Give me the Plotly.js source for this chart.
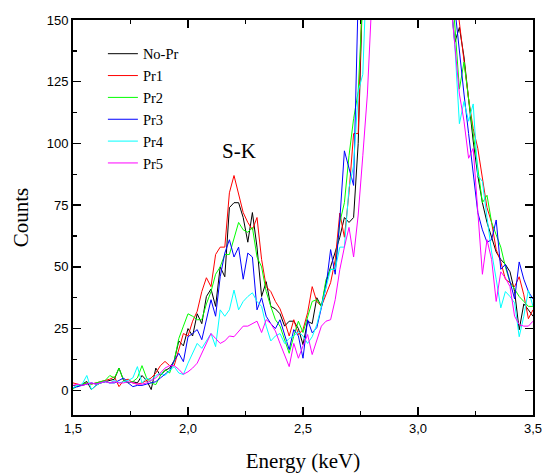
<!DOCTYPE html>
<html>
<head>
<meta charset="utf-8">
<script src="https://cdn.plot.ly/plotly-3.0.1.min.js"></script>
<style>html,body{margin:0;padding:0;background:#fff;}#chart{width:543px;height:473px;}</style>
</head>
<body>
<div id="chart"></div>
<script>
// Energy grid (keV), one channel every 0.02 keV from 1.50 to 3.50
const energyStart = 1.5;
const energyStep = 0.02;
const channelCount = 101;
const energy = Array.from({length: channelCount}, (_, i) => +(energyStart + energyStep * i).toFixed(2));

const seriesNames = ['No-Pr', 'Pr1', 'Pr2', 'Pr3', 'Pr4', 'Pr5'];
const seriesColors = ['#000000', '#ff0000', '#00ff00', '#0000ff', '#00ffff', '#ff00ff'];

const noPr = [2,1.5,2.5,3.6,0.3,2,3,3.5,4,4.5,
  9,4,3,3.5,3,6,4,0.3,9,6,
  8,9,12,20,18,25,22,31,27,38,
  41,34,50,46,74,76,76,70,60,72,
  58,38,44,34,33,31,26,28,28,25,
  18.5,28,27,37.5,34,43.6,50,56,62,70,
  68,70,100,165,210,270,340,430,520,600,
  670,710,720,700,660,610,540,460,380,300,
  240,190,160,141,147,135,118,101,87,76,
  68,62,56,53,51,48,40,24.5,35,32.6,
  30];
const pr1 = [3,2.5,2,3,2.5,3,3.5,4,4.5,5.5,
  1.5,4,4.5,3,2.5,3,4,5,7,10,
  11.7,10,10,16,23,22,28,32,40,45.6,
  42,55,58,58,80,87,80,72,68,65,
  70,53,42,40,36,33,28,22,28.6,22.6,
  24.6,31.4,42,36,34,38.7,43.6,52.8,71.8,62,
  80,104,104,170,230,300,380,470,560,640,
  700,740,750,730,690,640,570,490,410,330,
  265,210,180,165,148,133,118,106,98,86,
  74,68,57,52,45,43.6,42,46,38.7,29,
  32.6];
const pr2 = [0.5,2,2.5,3,2.5,3,3.5,4,6,5,
  9,4,3,3.5,5,10,5,3,2.3,6,
  8.4,7,12,21,26,31,30,28.6,28.6,35,
  40,47,50,55,55,61,68,65,64,66,
  54,50,40,34,28.6,26,20.5,15,22,28,
  23.4,30,36,36.7,34,44.8,49,49,68,76,
  95,110,121,160,215,280,350,440,530,610,
  680,720,730,710,670,620,550,470,390,310,
  250,200,170,148,122,133,118,104,88,76,
  79,68,63,58,50,43.6,41,38,36,34,
  34];
const pr3 = [1,1.5,2,2.5,3,2.5,3,3.5,3,3,
  4,5,3,1.5,2,2,2.5,3,3.5,5,
  6.4,8,12,15,11.6,21.7,23,24.6,20.5,28,
  36.7,30,46,55.6,61,54,58,45,55.6,54,
  32.6,37.5,30,27,25,28.6,22,16.5,24.6,22,
  13,28.6,23.3,25.4,33.5,42,57,47,69,97,
  90,83,160,220,290,370,460,550,630,690,
  730,740,720,680,630,560,480,400,320,260,
  210,180,175,155,137,120,104,88.5,72,65,
  60,61,69,49,51,44,37,52,45,40,
  37];
const pr4 = [1,2,2.5,6,0.3,2,3,3.5,3,4,
  3,3.5,4,5,9.6,3,5,4,6,7,
  6,8,9.6,7,6.4,11,15,19,17,20,
  23,17.7,32.6,30,32.6,40.6,32.6,36,38,39.5,
  36,34,26,20,22,23,19,21,22,23.8,
  22,19,21.7,26.6,34,42,49,49,58,58,
  82,91,121,128,165,230,310,400,490,570,
  640,680,690,670,630,580,510,430,350,280,
  220,180,160,140,108,117,109,116,87,84.6,
  70,56,45,33.4,40,38,35.4,21.7,30,40.6,
  34];
const pr5 = [2,2.5,2,2.5,3,2.5,3,3.5,3,3.5,
  3,3,3.5,3,2.5,2.5,3,4,5,7,
  9,10,10,8.5,6.5,7.5,9,11,15,19,
  23,21,19,20,22,21.7,24,26,26,27,
  28,23.4,28.6,27,24,19,14,9.6,19,13,
  18,22.6,14.5,20.5,26,28,28.6,36.7,48.9,58,
  66,54,71,95,120,160,220,300,390,480,
  560,620,650,640,610,560,490,410,330,260,
  210,175,160,140,120,109,94,98,74,47,
  61,53,36,48,45.5,42,30,26.6,26,26,
  28];
const seriesValues = [noPr, pr1, pr2, pr3, pr4, pr5];

const xTitle = 'Energy (keV)';
const yTitle = 'Counts';
const peakLabel = 'S-K';
const peakLabelEnergy = 2.22;
const peakLabelCounts = 97;

const serif = '"Times New Roman", "Liberation Serif", Times, serif';
const sans = 'Arial, "Liberation Sans", sans-serif';

const traces = seriesNames.map((name, k) => ({
  x: energy,
  y: seriesValues[k],
  name: name,
  type: 'scatter',
  mode: 'lines',
  line: {color: seriesColors[k], width: 1}
}));

const axisCommon = {
  showline: true, linewidth: 2, linecolor: '#000',
  ticks: 'inside', ticklen: 8, tickwidth: 1.5, tickcolor: '#000',
  mirror: 'ticks', showgrid: false, zeroline: false,
  tickfont: {family: sans, size: 13, color: '#000'}
};

const layout = {
  width: 543, height: 473,
  margin: {l: 73, r: 10, t: 20, b: 58},
  paper_bgcolor: '#fff', plot_bgcolor: '#fff',
  separators: ', ',
  font: {family: sans, size: 13, color: '#000'},
  showlegend: true,
  legend: {
    x: 0.065, y: 0.955, xanchor: 'left', yanchor: 'top',
    font: {family: serif, size: 14.5, color: '#000'},
    bgcolor: 'rgba(0,0,0,0)', borderwidth: 0
  },
  xaxis: Object.assign({}, axisCommon, {
    range: [1.5, 3.5], tick0: 1.5, dtick: 0.5, tickformat: '.1f',
    minor: {dtick: 0.25, ticks: 'inside', ticklen: 4, tickwidth: 1.5, tickcolor: '#000', showgrid: false},
    title: {text: xTitle, font: {family: serif, size: 21, color: '#000'}, standoff: 20}
  }),
  yaxis: Object.assign({}, axisCommon, {
    range: [-10, 150], tick0: 0, dtick: 25,
    minor: {dtick: 12.5, ticks: 'inside', ticklen: 4, tickwidth: 1.5, tickcolor: '#000', showgrid: false},
    title: {text: yTitle, font: {family: serif, size: 21, color: '#000'}, standoff: 12}
  }),
  annotations: [{
    x: peakLabelEnergy, y: peakLabelCounts, xref: 'x', yref: 'y',
    text: peakLabel, showarrow: false,
    font: {family: serif, size: 21, color: '#000'}
  }]
};

Plotly.newPlot('chart', traces, layout, {displayModeBar: false, staticPlot: true});
</script>
</body>
</html>
